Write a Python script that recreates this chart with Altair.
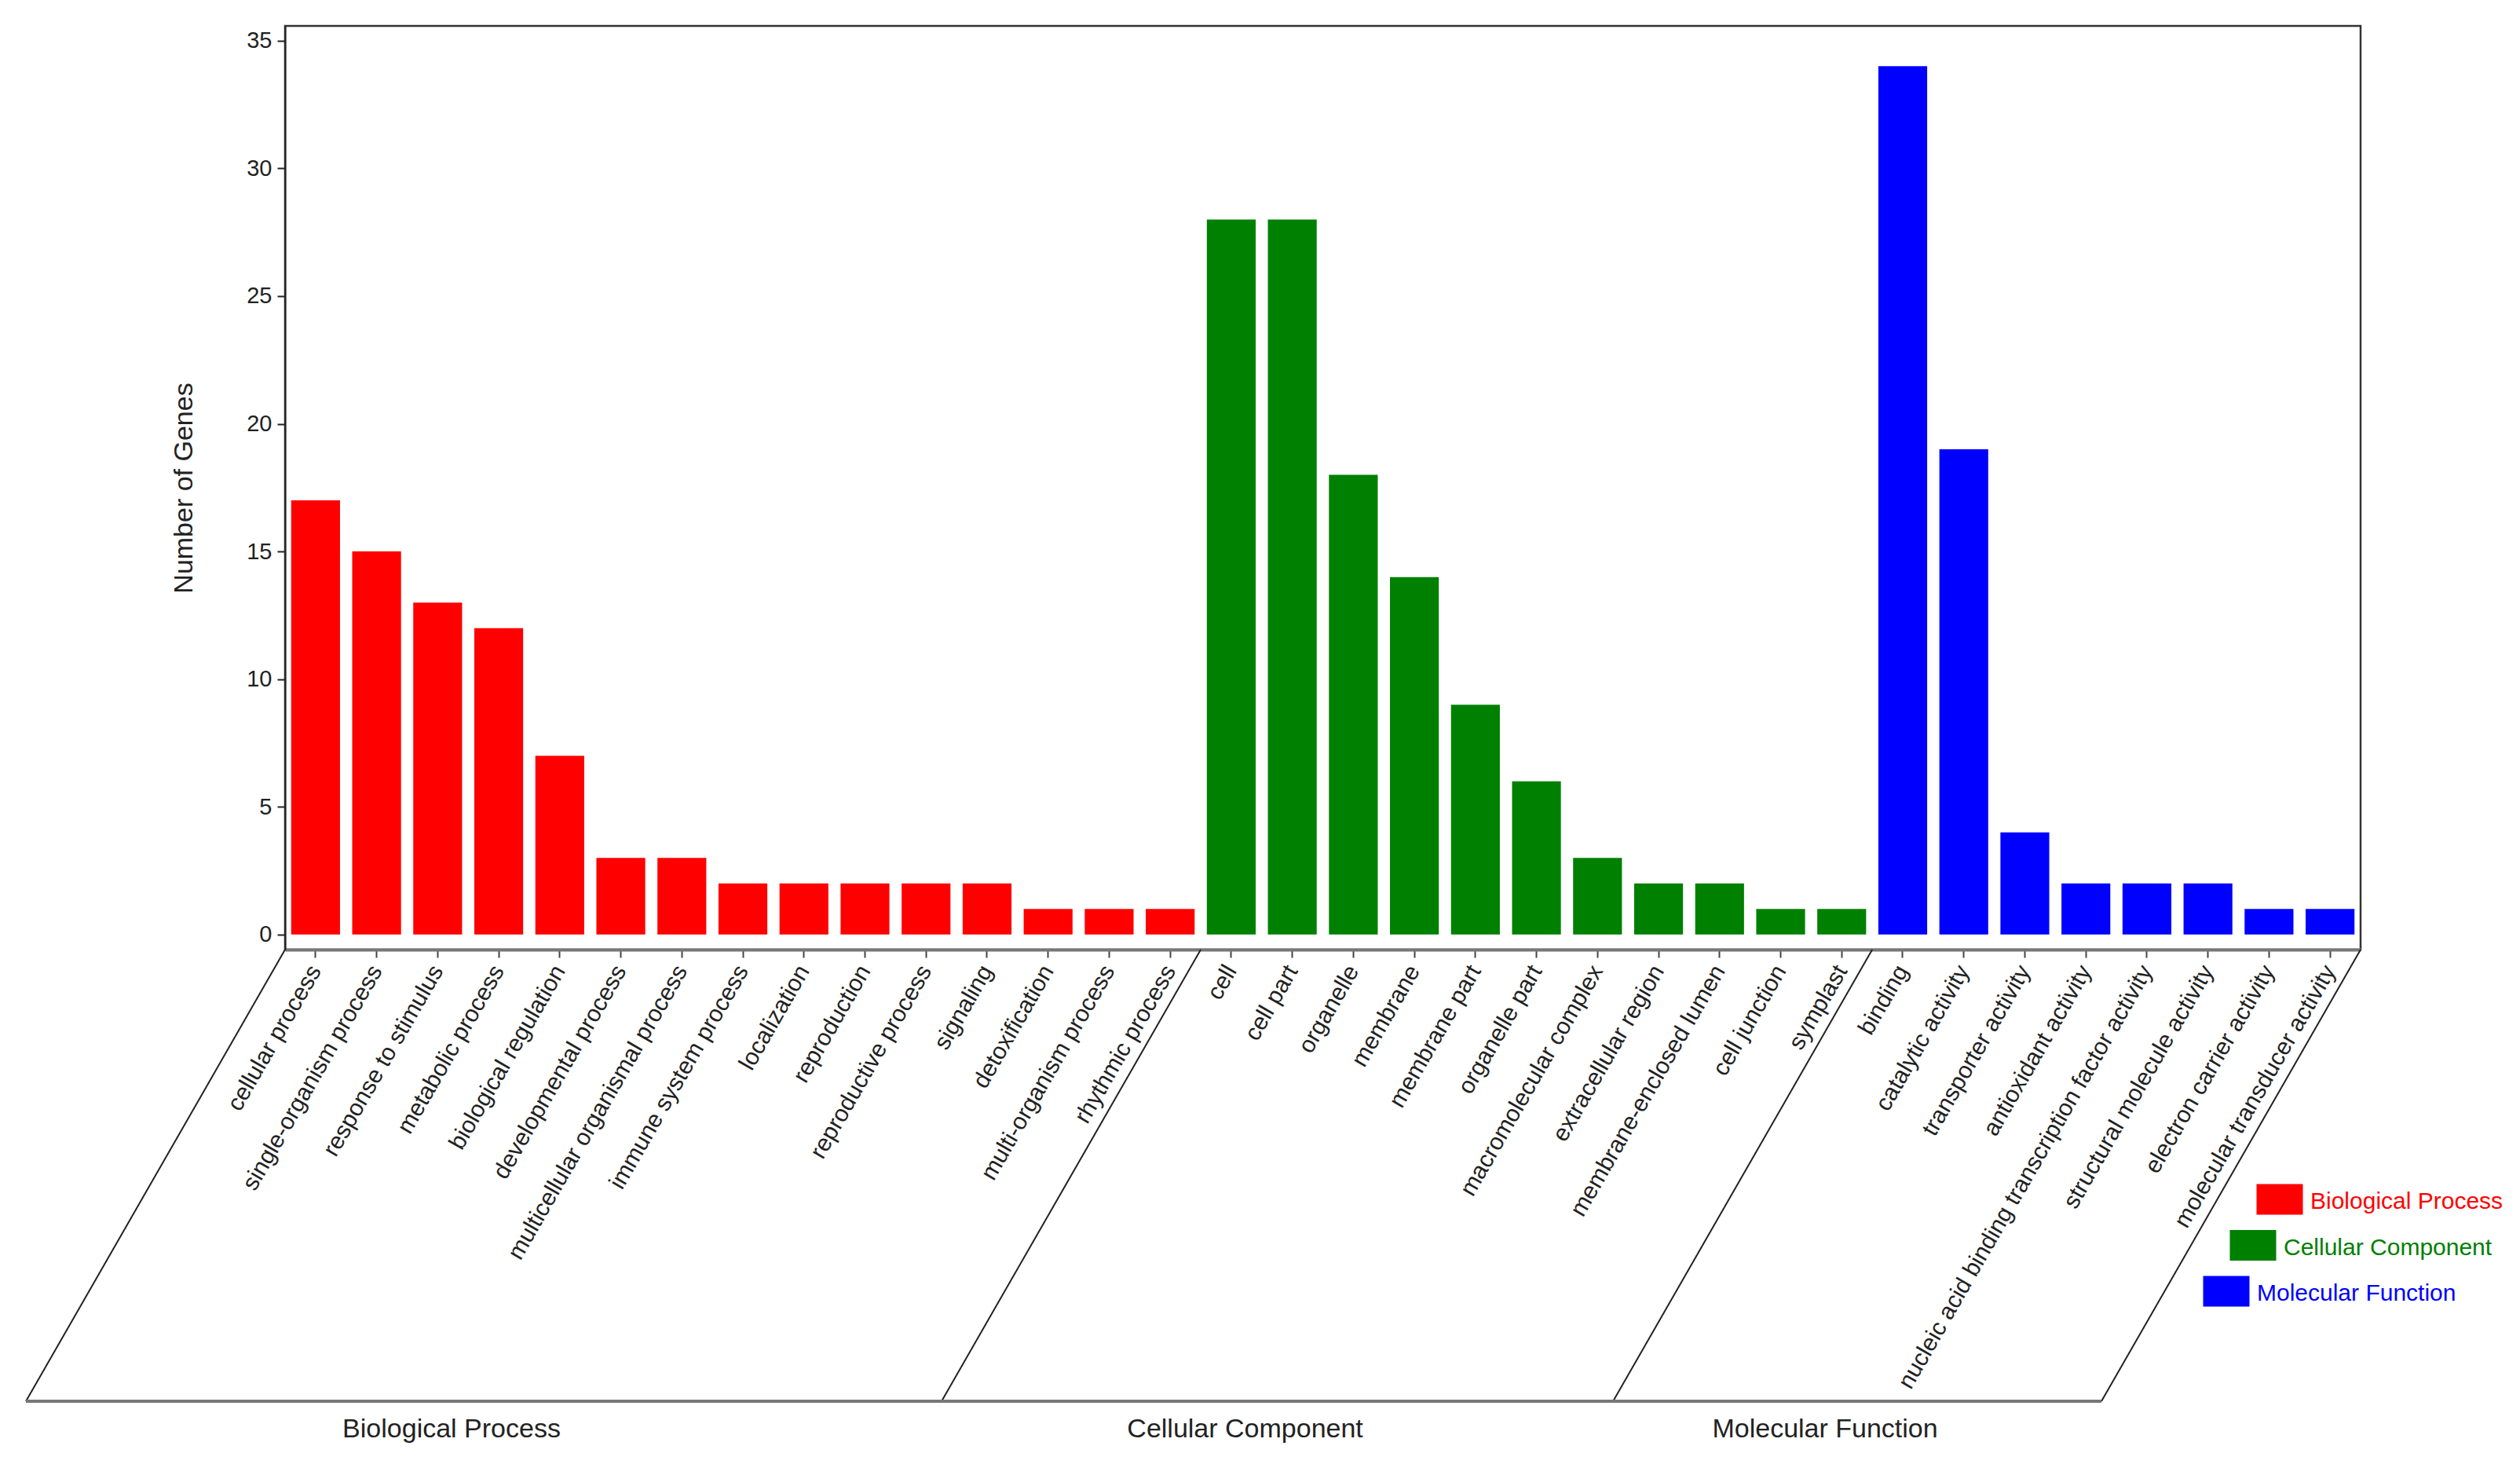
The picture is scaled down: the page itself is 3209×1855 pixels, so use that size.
import altair as alt
import pandas as pd

groups = ["Biological Process", "Cellular Component", "Molecular Function"]
group_colors = ["#FF0000", "#008000", "#0000FF"]

bp_terms = ["cellular process", "single-organism process", "response to stimulus",
            "metabolic process", "biological regulation", "developmental process",
            "multicellular organismal process", "immune system process", "localization",
            "reproduction", "reproductive process", "signaling", "detoxification",
            "multi-organism process", "rhythmic process"]
bp_counts = [17, 15, 13, 12, 7, 3, 3, 2, 2, 2, 2, 2, 1, 1, 1]

cc_terms = ["cell", "cell part", "organelle", "membrane", "membrane part",
            "organelle part", "macromolecular complex", "extracellular region",
            "membrane-enclosed lumen", "cell junction", "symplast"]
cc_counts = [28, 28, 18, 14, 9, 6, 3, 2, 2, 1, 1]

mf_terms = ["binding", "catalytic activity", "transporter activity", "antioxidant activity",
            "nucleic acid binding transcription factor activity", "structural molecule activity",
            "electron carrier activity", "molecular transducer activity"]
mf_counts = [34, 19, 4, 2, 2, 2, 1, 1]

y_ticks = [0, 5, 10, 15, 20, 25, 30, 35]

# ---- tables built from the arrays above ----
rows = []
for g, ts, cs in zip(groups, [bp_terms, cc_terms, mf_terms], [bp_counts, cc_counts, mf_counts]):
    for t, c in zip(ts, cs):
        rows.append({"term": t, "count": c, "group": g})
df = pd.DataFrame(rows)
terms = list(df["term"])
n = len(terms)

sizes = [len(bp_terms), len(cc_terms), len(mf_terms)]
bounds = [0]
for s in sizes:
    bounds.append(bounds[-1] + s)
bdf = pd.DataFrame({"b": bounds})
gdf = pd.DataFrame({"group": groups, "start": bounds[:-1], "end": bounds[1:]})
gdf["mid"] = (gdf["start"] + gdf["end"]) / 2
ldf = pd.DataFrame({"group": groups, "row": list(range(len(groups)))})

# ---- layout ----
W, H = 2643, 1176
SLANT_X = -330
DROP = 575
FONT = "Liberation Sans"

xq = alt.Scale(domain=[0, n], nice=False, zero=False)
color_scale = alt.Scale(domain=groups, range=group_colors)

bars = alt.Chart(df).mark_bar().encode(
    x=alt.X("term:N", sort=terms,
            scale=alt.Scale(paddingInner=0.2, paddingOuter=0.1),
            axis=alt.Axis(title=None, labelAngle=-60, labelAlign="right",
                          labelBaseline="middle", labelFontSize=30, labelPadding=12,
                          labelLimit=0, labelOverlap=False, tickSize=10, tickWidth=2,
                          tickColor="#444", domainColor="#777", domainWidth=4,
                          labelColor="#222")),
    y=alt.Y("count:Q",
            scale=alt.Scale(domain=[-0.59, 35.58], nice=False, zero=False),
            axis=alt.Axis(values=y_ticks, title="Number of Genes", grid=False,
                          tickSize=10, tickWidth=2, tickColor="#222",
                          domainColor="#222", domainWidth=2, labelFontSize=29,
                          labelPadding=7, labelColor="#222", titleFontSize=34,
                          titleFontWeight="normal", titleColor="#222",
                          titlePadding=62)),
    y2=alt.datum(0),
    color=alt.Color("group:N", scale=color_scale, legend=None),
)

sep = alt.Chart(bdf).mark_rule(color="#222", strokeWidth=2, x2Offset=SLANT_X).encode(
    x=alt.X("b:Q", scale=xq, axis=None),
    x2="b:Q",
    y=alt.value(H),
    y2=alt.value(H + DROP),
)

bottom = alt.Chart(gdf).transform_aggregate(
    s="min(start)", e="max(end)"
).mark_rule(color="#777", strokeWidth=4, xOffset=SLANT_X, x2Offset=SLANT_X).encode(
    x=alt.X("s:Q", scale=xq, axis=None),
    x2="e:Q",
    y=alt.value(H + DROP),
)

glabels = alt.Chart(gdf).mark_text(fontSize=34, color="#222", dx=-371,
                                   baseline="middle", align="center").encode(
    x=alt.X("mid:Q", scale=xq, axis=None),
    y=alt.value(1787),
    text="group:N",
)

leg_x = alt.Scale(domain=[0, 2], range=[2540, 2472], nice=False, zero=False)
leg_y = alt.Scale(domain=[0, 2], range=[1494, 1611], nice=False, zero=False)

legpts = alt.Chart(ldf).mark_point(
    shape="M-1,-0.66L1,-0.66L1,0.66L-1,0.66Z", size=3481, filled=True,
    opacity=1, strokeWidth=0
).encode(
    x=alt.X("row:Q", scale=leg_x, axis=None),
    y=alt.Y("row:Q", scale=leg_y, axis=None),
    color=alt.Color("group:N", scale=color_scale, legend=None),
)

legtxt = alt.Chart(ldf).mark_text(align="left", baseline="middle", fontSize=30,
                                  dx=39, dy=3).encode(
    x=alt.X("row:Q", scale=leg_x, axis=None),
    y=alt.Y("row:Q", scale=leg_y, axis=None),
    text="group:N",
    color=alt.Color("group:N", scale=color_scale, legend=None),
)

chart = alt.layer(bars, sep, bottom, glabels, legpts, legtxt).resolve_scale(
    x="independent", y="independent"
).properties(
    width=W, height=H,
    padding={"left": 355, "top": 25, "right": 190, "bottom": 630},
    autosize=alt.AutoSizeParams(type="none"),
).configure(font=FONT).configure_view(stroke="#333", strokeWidth=2.5)

chart.save("out.html", embed_options={"renderer": "svg", "actions": False})
